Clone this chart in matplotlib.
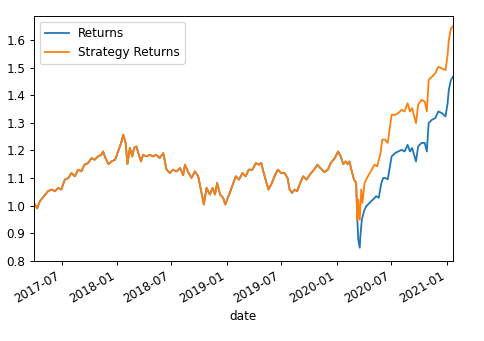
import pandas as pd
import matplotlib
matplotlib.use('Agg')
import matplotlib.pyplot as plt
import matplotlib.dates as mdates
from matplotlib.ticker import MultipleLocator, FormatStrFormatter

# cumulative returns, identical for both columns until the March 2020 sell-off
shared_dates = [
    '2017-03-31', '2017-04-11', '2017-04-20', '2017-05-08', '2017-05-17', '2017-05-29',
    '2017-06-09', '2017-06-20', '2017-06-30', '2017-07-12', '2017-07-24', '2017-08-03',
    '2017-08-14', '2017-08-25', '2017-09-05', '2017-09-15', '2017-09-27', '2017-10-09',
    '2017-10-19', '2017-10-30', '2017-11-10', '2017-11-16', '2017-11-24', '2017-12-04',
    '2017-12-14', '2017-12-26', '2018-01-05', '2018-01-15', '2018-01-22', '2018-01-30',
    '2018-02-05', '2018-02-13', '2018-02-21', '2018-02-27', '2018-03-07', '2018-03-13',
    '2018-03-22', '2018-03-29', '2018-04-10', '2018-04-20', '2018-05-01', '2018-05-11',
    '2018-05-23', '2018-06-04', '2018-06-15', '2018-06-26', '2018-07-06', '2018-07-18',
    '2018-07-30', '2018-08-09', '2018-08-15', '2018-08-27', '2018-09-06', '2018-09-17',
    '2018-09-28', '2018-10-09', '2018-10-17', '2018-10-26', '2018-11-06', '2018-11-15',
    '2018-11-23', '2018-11-30', '2018-12-10', '2018-12-20', '2018-12-27', '2019-01-09',
    '2019-01-21', '2019-01-31', '2019-02-11', '2019-02-22', '2019-03-05', '2019-03-15',
    '2019-03-27', '2019-04-08', '2019-04-18', '2019-04-26', '2019-05-01', '2019-05-13',
    '2019-05-20', '2019-05-31', '2019-06-11', '2019-06-20', '2019-07-01', '2019-07-12',
    '2019-07-22', '2019-07-29', '2019-08-06', '2019-08-15', '2019-08-23', '2019-09-02',
    '2019-09-12', '2019-09-23', '2019-10-04', '2019-10-18', '2019-10-29', '2019-11-08',
    '2019-11-22', '2019-12-03', '2019-12-13', '2019-12-26', '2020-01-06', '2020-01-15',
    '2020-01-23', '2020-01-31', '2020-02-07', '2020-02-13', '2020-02-19', '2020-02-28',
    '2020-03-06', '2020-03-10',
]
shared_vals = [
    1.010, 0.990, 1.016, 1.040, 1.052, 1.058,
    1.052, 1.064, 1.058, 1.094, 1.100, 1.118,
    1.106, 1.130, 1.124, 1.148, 1.154, 1.172,
    1.166, 1.178, 1.184, 1.196, 1.172, 1.150,
    1.160, 1.166, 1.196, 1.227, 1.257, 1.227,
    1.150, 1.209, 1.178, 1.209, 1.214, 1.190,
    1.160, 1.184, 1.178, 1.184, 1.178, 1.184,
    1.172, 1.190, 1.130, 1.118, 1.130, 1.124,
    1.136, 1.110, 1.148, 1.118, 1.100, 1.124,
    1.106, 1.046, 1.004, 1.064, 1.040, 1.064,
    1.040, 1.082, 1.040, 1.028, 1.004, 1.040,
    1.076, 1.106, 1.094, 1.118, 1.106, 1.130,
    1.130, 1.154, 1.148, 1.154, 1.130, 1.082,
    1.058, 1.082, 1.112, 1.130, 1.118, 1.118,
    1.100, 1.058, 1.046, 1.058, 1.052, 1.082,
    1.106, 1.094, 1.112, 1.130, 1.148, 1.136,
    1.121, 1.130, 1.155, 1.172, 1.196, 1.178,
    1.150, 1.160, 1.150, 1.160, 1.130, 1.094,
    1.082, 0.949,
]

# buy-and-hold after the split
ret_dates = [
    '2020-03-13', '2020-03-18', '2020-03-20', '2020-03-25', '2020-04-01', '2020-04-08',
    '2020-04-20', '2020-05-01', '2020-05-12', '2020-05-20', '2020-05-29', '2020-06-04',
    '2020-06-10', '2020-06-19', '2020-07-02', '2020-07-13', '2020-07-24', '2020-08-04',
    '2020-08-14', '2020-08-24', '2020-09-01', '2020-09-08', '2020-09-21', '2020-09-28',
    '2020-10-09', '2020-10-20', '2020-10-27', '2020-11-02', '2020-11-13', '2020-11-24',
    '2020-12-04', '2020-12-16', '2020-12-28', '2021-01-04', '2021-01-08', '2021-01-15',
    '2021-01-22',
]
ret_vals = [
    0.877, 0.847, 0.889, 0.949, 0.979, 0.997,
    1.010, 1.022, 1.034, 1.028, 1.082, 1.100,
    1.100, 1.095, 1.178, 1.190, 1.196, 1.202,
    1.196, 1.220, 1.196, 1.209, 1.160, 1.214,
    1.227, 1.227, 1.196, 1.299, 1.311, 1.317,
    1.341, 1.335, 1.323, 1.371, 1.419, 1.455,
    1.467,
]

# strategy after the split
strat_dates = [
    '2020-03-13', '2020-03-18', '2020-03-23', '2020-03-27', '2020-04-03', '2020-04-14',
    '2020-04-24', '2020-05-06', '2020-05-15', '2020-05-26', '2020-06-01', '2020-06-10',
    '2020-06-19', '2020-07-02', '2020-07-13', '2020-07-24', '2020-08-04', '2020-08-14',
    '2020-08-24', '2020-09-01', '2020-09-08', '2020-09-21', '2020-09-28', '2020-10-09',
    '2020-10-20', '2020-10-27', '2020-11-02', '2020-11-13', '2020-11-24', '2020-12-04',
    '2020-12-16', '2020-12-28', '2021-01-04', '2021-01-08', '2021-01-15', '2021-01-22',
]
strat_vals = [
    1.022, 0.949, 1.058, 1.010, 1.082, 1.106,
    1.124, 1.148, 1.142, 1.190, 1.239, 1.239,
    1.227, 1.329, 1.329, 1.335, 1.347, 1.341,
    1.371, 1.341, 1.353, 1.299, 1.365, 1.383,
    1.377, 1.341, 1.455, 1.467, 1.479, 1.503,
    1.497, 1.491, 1.546, 1.600, 1.642, 1.650,
]

returns = pd.Series(shared_vals + ret_vals,
                    index=pd.to_datetime(shared_dates + ret_dates))
strategy = pd.Series(shared_vals + strat_vals,
                     index=pd.to_datetime(shared_dates + strat_dates))

DPI = 86.4
fig = plt.figure(figsize=(484 / DPI, 341 / DPI), dpi=DPI)
ax = fig.add_axes([0.070, 0.235, 0.866, 0.718])

ax.plot(returns.index, returns.values, color='tab:blue', label='Returns')
ax.plot(strategy.index, strategy.values, color='tab:orange', label='Strategy Returns')

ax.set_xlim(returns.index[0], returns.index[-1])
ax.set_ylim(0.7995, 1.687)
ax.yaxis.set_major_locator(MultipleLocator(0.1))
ax.yaxis.set_major_formatter(FormatStrFormatter('%.1f'))
ax.xaxis.set_major_locator(mdates.MonthLocator(bymonth=[1, 7]))
ax.xaxis.set_major_formatter(mdates.DateFormatter('%Y-%m'))
for lbl in ax.get_xticklabels():
    lbl.set_rotation(30)
    lbl.set_ha('right')
ax.set_xlabel('date')
ax.legend(loc='upper left')

fig.savefig('out.png', dpi=DPI)
